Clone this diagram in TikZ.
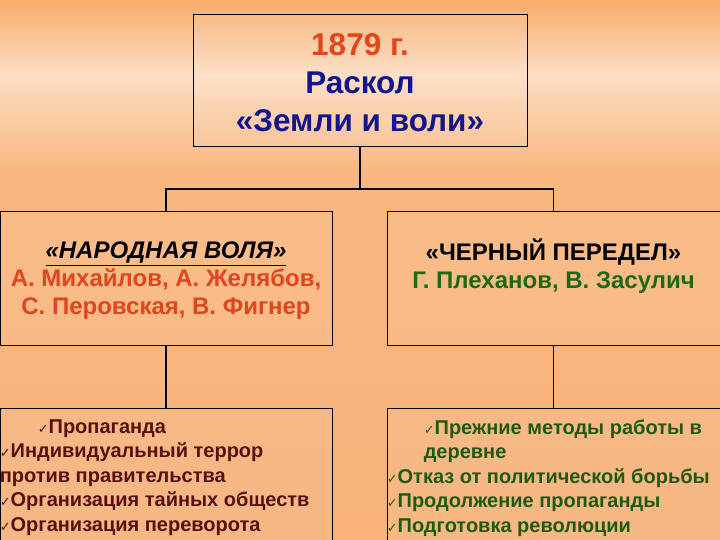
\documentclass[tikz,border=0pt]{standalone}
\usepackage{fontspec}
\setmainfont{Liberation Sans}
\newfontfamily\symfont{DejaVu Sans}
\usetikzlibrary{positioning}
\definecolor{bgtop}{HTML}{F8AC6A}
\definecolor{bglight}{HTML}{FCDEC4}
\definecolor{bgmid}{HTML}{F9B880}
\definecolor{bgbottom}{HTML}{F8B27A}
\definecolor{yearred}{HTML}{E2461A}
\definecolor{navy}{HTML}{14148C}
\definecolor{namered}{HTML}{E0461E}
\definecolor{namegreen}{HTML}{1E6A14}
\definecolor{listred}{HTML}{5A0F0A}
\definecolor{listgreen}{HTML}{1E5A0F}
\newcommand{\chk}{{\symfont\fontsize{13}{13}\selectfont ✓}}
\tikzstyle{box}=[draw, line width=0.9pt, fill=white, fill opacity=0.08, inner sep=0pt]
\tikzstyle{boxtext}=[inner sep=0pt, align=center, font=\bfseries\fontsize{24}{28}\selectfont]
\tikzstyle{link}=[line width=1.6pt]
\tikzstyle{listtext}=[anchor=north west, inner sep=0pt, align=left, font=\bfseries\fontsize{20}{24.4}\selectfont]

\begin{document}
\begin{tikzpicture}[x=1pt, y=-1pt]
% Background
    \useasboundingbox (0,0) rectangle (720,540);
    \shade[top color=bgtop, bottom color=bglight] (0,0) rectangle (720,75);
    \shade[top color=bglight, bottom color=bgmid] (0,75) rectangle (720,170);
    \shade[top color=bgmid, bottom color=bgbottom] (0,170) rectangle (720,540);
% Boxes
    \node[box, minimum width=334pt, minimum height=132pt] (split) at (360,80) {};
    \node[box, minimum width=332pt, minimum height=134pt] (nvolya) at (166,278) {};
    \node[box, minimum width=333pt, minimum height=134pt] (chperedel) at (553.5,278) {};
    \node[box, minimum width=332pt, minimum height=132pt] (nvmethods) at (166,474) {};
    \node[box, minimum width=333pt, minimum height=132pt] (chmethods) at (553.5,474) {};
% Titles
    \node[boxtext, font=\bfseries\fontsize{31.5}{38}\selectfont] (splittext) at ([yshift=-3pt]split.center)
        {\textcolor{yearred}{1879 г.}\\
         \textcolor{navy}{Раскол}\\
         \textcolor{navy}{«Земли и воли»}};
    \node[boxtext] (nvtext) at ([yshift=-3pt]nvolya.center)
        {\underline{\textit{«НАРОДНАЯ ВОЛЯ»}}\\
         \textcolor{namered}{А. Михайлов, А. Желябов,}\\
         \textcolor{namered}{С. Перовская, В. Фигнер}};
    \node[boxtext, anchor=north] (chtext) at ([yshift=-28pt]chperedel.north)
        {«ЧЕРНЫЙ ПЕРЕДЕЛ»\\
         \textcolor{namegreen}{Г. Плеханов, В. Засулич}};
% Links
    \coordinate (fork) at (360,189);
    \draw[link] (split.south) -- (fork);
    \draw[link] (nvolya.north) |- (fork) -| (chperedel.north);
    \draw[link] (nvolya.south) -- (nvmethods.north);
    \draw[link] (chperedel.south) -- (chmethods.north);
% Lists
    \node[listtext, text=listred] (nvlist) at ([yshift=-12pt]nvmethods.north west)
        {\hspace*{38pt}\chk Пропаганда\\
         \chk Индивидуальный террор\\
         против правительства\\
         \chk Организация тайных обществ\\
         \chk Организация переворота};
    \node[listtext, text=listgreen] (chlist) at ([xshift=37pt, yshift=-12pt]chmethods.north west)
        {\chk Прежние методы работы в\\
         деревне\\
         \hspace*{-37pt}\chk Отказ от политической борьбы\\
         \hspace*{-37pt}\chk Продолжение пропаганды\\
         \hspace*{-37pt}\chk Подготовка революции};
\end{tikzpicture}
\end{document}
